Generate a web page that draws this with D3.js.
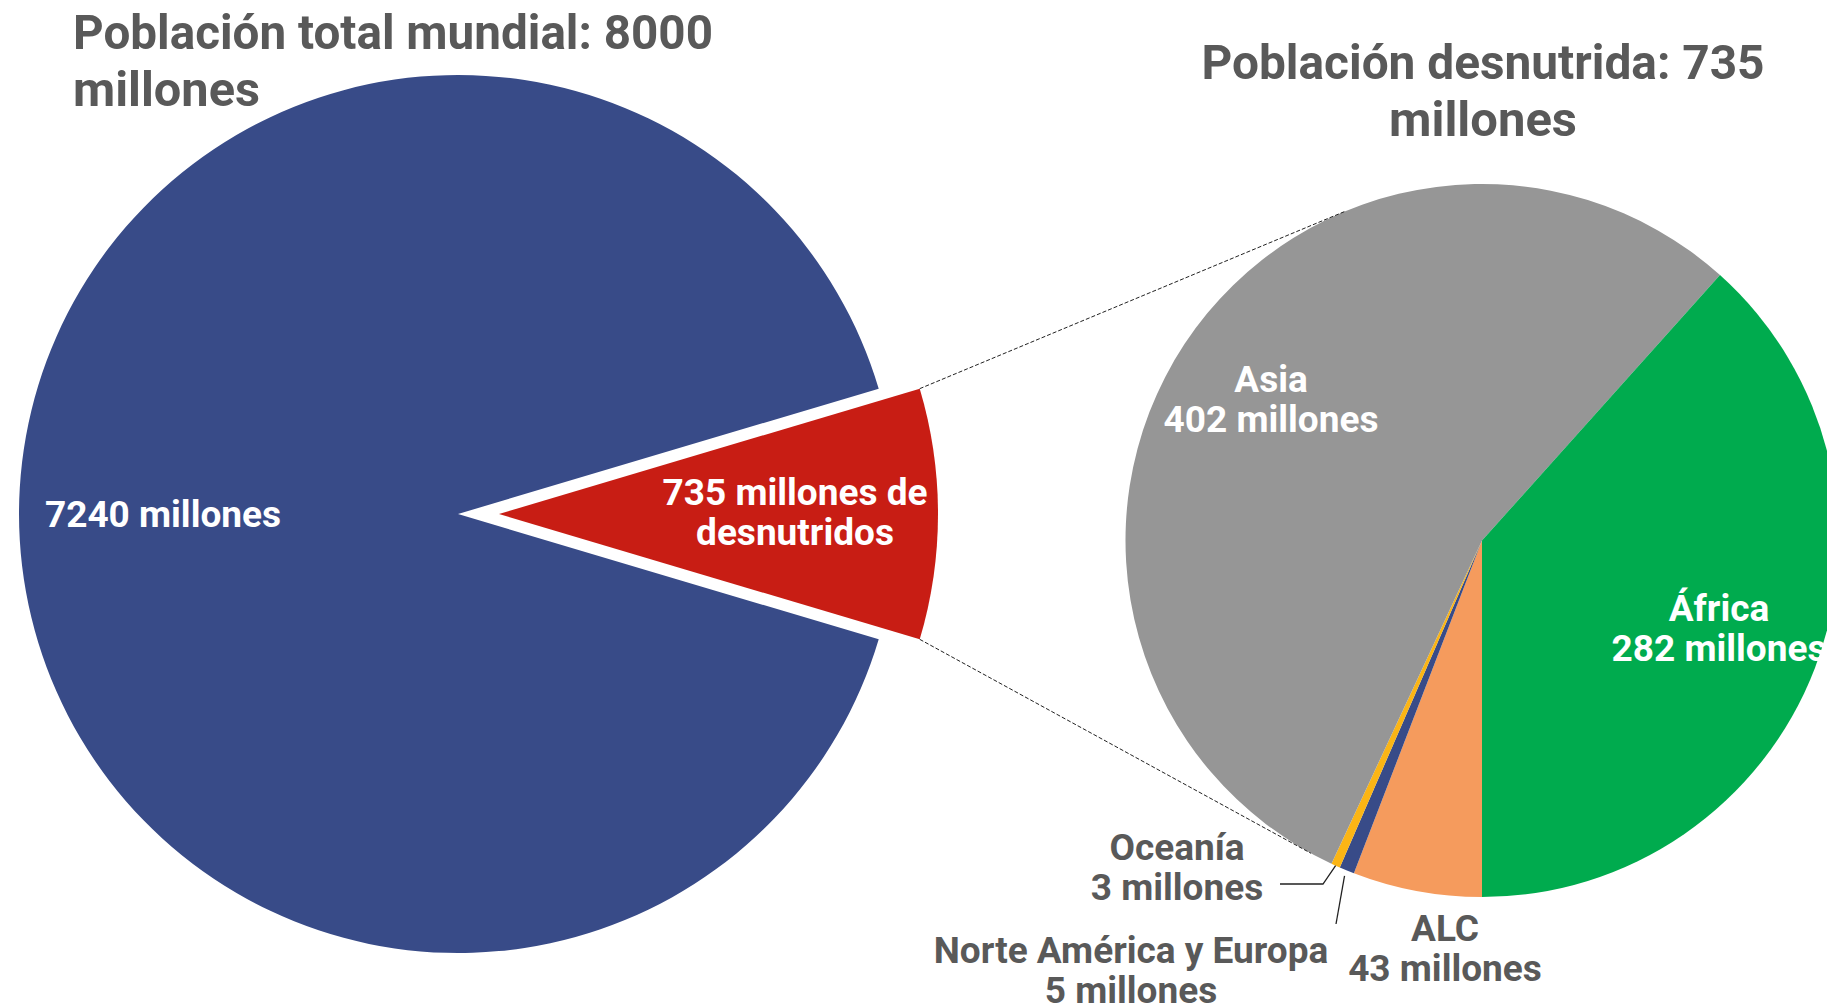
<!DOCTYPE html>
<html>
<head>
<meta charset="utf-8">
<script src="https://cdn.jsdelivr.net/npm/d3@7"></script>
<style>
  body { margin: 0; background: #fff; }
  text { font-family: Roboto, "Open Sans", sans-serif; font-weight: 700; }
</style>
</head>
<body>
<div id="chart"></div>
<script>
// --- data ---
var totalNames = ["No desnutridos", "Desnutridos"];
var totalValues = [7240, 735];
var totalLabels = [["7240 millones"], ["735 millones de", "desnutridos"]];

var regionNames = ["ALC", "Norte América y Europa", "Oceanía", "Asia", "África"];
var regionValues = [43, 5, 3, 402, 282];
var regionLabels = [
  ["ALC", "43 millones"],
  ["Norte América y Europa", "5 millones"],
  ["Oceanía", "3 millones"],
  ["Asia", "402 millones"],
  ["África", "282 millones"]
];

var titleLeft = ["Población total mundial: 8000", "millones"];
var titleRight = ["Población desnutrida: 735", "millones"];

// --- layout ---
var width = 1827, height = 1004;
var left = { cx: 458, cy: 514, r: 439, explode: 41 };
var right = { cx: 1482, cy: 540.5, r: 356.5 };
var lineH = 40;
var labelSize = 37;
var totalColors = ["#384B88", "#C81D14"];
var regionColors = ["#F59B5D", "#384B88", "#FBB515", "#969696", "#00AB4E"];
var grayText = "#595959";

// label anchors (x, baseline of first line)
var totalLabelPos = [[163, 527], [795, 505]];
var regionLabelPos = [[1445, 941], [1131, 963], [1177, 860], [1271, 392], [1719, 621]];

var svg = d3.select("#chart").append("svg")
  .attr("width", width)
  .attr("height", height);

// left pie: red slice centred on 3 o'clock
var redAngle = 2 * Math.PI * totalValues[1] / d3.sum(totalValues);
var pieLeft = d3.pie().sort(null)
  .startAngle(Math.PI / 2 + redAngle / 2)
  .endAngle(Math.PI / 2 + redAngle / 2 + 2 * Math.PI);
var arcLeft = d3.arc().innerRadius(0).outerRadius(left.r);
var leftArcs = pieLeft(totalValues);

var gLeft = svg.append("g").attr("transform", "translate(" + left.cx + "," + left.cy + ")");
gLeft.selectAll("path")
  .data(leftArcs)
  .enter()
  .append("path")
  .attr("d", arcLeft)
  .attr("fill", function(d, i) { return totalColors[i]; })
  .attr("transform", function(d, i) {
    if (i !== 1) return null;
    var a = (d.startAngle + d.endAngle) / 2;
    return "translate(" + (left.explode * Math.sin(a)) + "," + (-left.explode * Math.cos(a)) + ")";
  });

// right pie: starts at 6 o'clock going clockwise
var pieRight = d3.pie().sort(null).startAngle(Math.PI).endAngle(3 * Math.PI);
var arcRight = d3.arc().innerRadius(0).outerRadius(right.r);
var rightArcs = pieRight(regionValues);

var gRight = svg.append("g").attr("transform", "translate(" + right.cx + "," + right.cy + ")");
gRight.selectAll("path")
  .data(rightArcs)
  .enter()
  .append("path")
  .attr("d", arcRight)
  .attr("fill", function(d, i) { return regionColors[i]; });

// connector lines: from the red slice corners, tangent to the right pie
var red = leftArcs[1];
var redMid = (red.startAngle + red.endAngle) / 2;
var ox = left.cx + left.explode * Math.sin(redMid), oy = left.cy - left.explode * Math.cos(redMid);
[red.startAngle, red.endAngle].forEach(function(a, k) {
  var px = ox + left.r * Math.sin(a), py = oy - left.r * Math.cos(a);
  var dx = px - right.cx, dy = py - right.cy;
  var d = Math.sqrt(dx * dx + dy * dy);
  var dir = Math.atan2(dx, -dy);
  var off = Math.acos(right.r / d);
  var t = k === 0 ? dir + off : dir - off;
  svg.append("line")
    .attr("x1", px).attr("y1", py)
    .attr("x2", right.cx + right.r * Math.sin(t))
    .attr("y2", right.cy - right.r * Math.cos(t))
    .attr("stroke", "#222")
    .attr("stroke-width", 1)
    .attr("stroke-dasharray", "4,2");
});

// leader lines for small slices
function edgePoint(d, extra) {
  var a = (d.startAngle + d.endAngle) / 2;
  return [right.cx + (right.r + extra) * Math.sin(a), right.cy - (right.r + extra) * Math.cos(a)];
}
var pOce = edgePoint(rightArcs[2], 0);
svg.append("polyline")
  .attr("points", [[1280, 884], [1323, 884], pOce].map(function(p) { return p.join(","); }).join(" "))
  .attr("fill", "none").attr("stroke", "#222").attr("stroke-width", 1.3);
var pNae = edgePoint(rightArcs[1], 6);
svg.append("line")
  .attr("x1", 1336).attr("y1", 924)
  .attr("x2", pNae[0]).attr("y2", pNae[1])
  .attr("stroke", "#222").attr("stroke-width", 1.3);

// labels
function multiline(lines, x, y, fill, size) {
  var t = svg.append("text")
    .attr("x", x).attr("y", y)
    .attr("text-anchor", "middle")
    .attr("fill", fill)
    .style("font-size", size + "px");
  lines.forEach(function(s, i) {
    t.append("tspan").attr("x", x).attr("dy", i === 0 ? 0 : lineH).text(s);
  });
}
totalLabels.forEach(function(l, i) {
  multiline(l, totalLabelPos[i][0], totalLabelPos[i][1], "#fff", labelSize);
});
regionLabels.forEach(function(l, i) {
  var fill = (i === 3 || i === 4) ? "#fff" : grayText;
  multiline(l, regionLabelPos[i][0], regionLabelPos[i][1], fill, labelSize);
});

// titles (condensed look)
function title(lines, x, y, anchor, lens) {
  lines.forEach(function(s, i) {
    svg.append("text")
      .attr("x", x).attr("y", y + i * 57)
      .attr("text-anchor", anchor)
      .attr("fill", grayText)
      .attr("textLength", lens[i])
      .attr("lengthAdjust", "spacingAndGlyphs")
      .style("font-size", "49px")
      .text(s);
  });
}
title(titleLeft, 73, 49, "start", [640, 187]);
title(titleRight, 1483, 79, "middle", [563, 188]);
</script>
</body>
</html>
